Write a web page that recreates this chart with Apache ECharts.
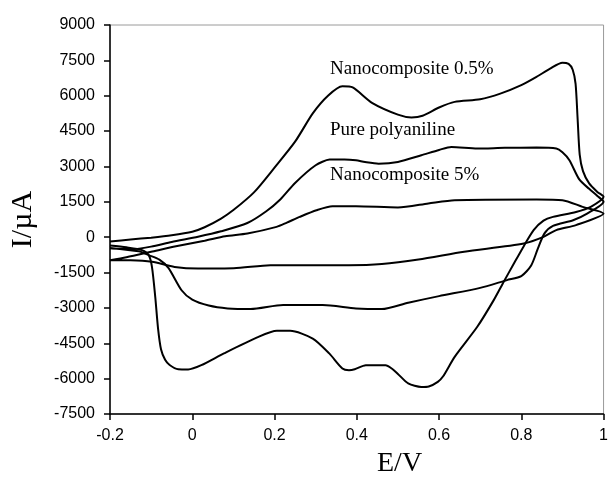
<!DOCTYPE html>
<html>
<head>
<meta charset="utf-8">
<script src="https://cdn.jsdelivr.net/npm/echarts@6/dist/echarts.min.js"></script>
<style>
html,body{margin:0;padding:0;background:#fff;}
#chart{width:611px;height:482px;}
</style>
</head>
<body>
<div id="chart"></div>
<script>
// ---- Data (E in V, I in µA) ----
const seriesNames = ['Nanocomposite 0.5%', 'Pure polyaniline', 'Nanocomposite 5%'];
const xTicks = [-0.2, 0, 0.2, 0.4, 0.6, 0.8, 1];
const yTicks = [-7500, -6000, -4500, -3000, -1500, 0, 1500, 3000, 4500, 6000, 7500, 9000];

// Nanocomposite 0.5% : anodic (forward) branch
const nc05FwdE = [-0.2, -0.15, -0.1, -0.05, 0.0, 0.03, 0.07, 0.1, 0.15, 0.2, 0.25, 0.293, 0.33, 0.365, 0.39, 0.437, 0.5, 0.533, 0.56, 0.6, 0.638, 0.7, 0.749, 0.8, 0.837, 0.87, 0.9, 0.915, 0.925, 0.932, 0.937, 0.942, 0.95, 0.965, 0.985, 1.0];
const nc05FwdI = [-180, -100, -20, 80, 230, 420, 790, 1150, 1900, 2950, 4050, 5250, 6000, 6400, 6350, 5700, 5200, 5080, 5150, 5500, 5740, 5850, 6090, 6450, 6800, 7150, 7400, 7350, 7100, 6500, 5000, 3500, 2800, 2280, 1920, 1710];
// Nanocomposite 0.5% : cathodic (reverse) branch
const nc05RevE = [1.0, 0.97, 0.933, 0.877, 0.854, 0.83, 0.806, 0.781, 0.757, 0.733, 0.693, 0.638, 0.61, 0.597, 0.575, 0.557, 0.525, 0.5, 0.485, 0.47, 0.422, 0.395, 0.381, 0.365, 0.333, 0.293, 0.238, 0.206, 0.158, 0.077, 0.022, -0.01, -0.034, -0.055, -0.066, -0.076, -0.083, -0.09, -0.098, -0.106, -0.122, -0.16, -0.2];
const nc05RevI = [1710, 1300, 1070, 860, 700, 300, -380, -1150, -1900, -2670, -3800, -5075, -5900, -6135, -6330, -6350, -6200, -5800, -5570, -5430, -5430, -5600, -5640, -5570, -4930, -4300, -3970, -3970, -4250, -4930, -5430, -5610, -5600, -5420, -5200, -4750, -3900, -2530, -1260, -760, -550, -430, -350];

// Pure polyaniline
const paniFwdE = [-0.2, -0.14, -0.1, -0.05, 0.014, 0.07, 0.134, 0.18, 0.214, 0.25, 0.3, 0.334, 0.37, 0.398, 0.42, 0.453, 0.5, 0.557, 0.6, 0.63, 0.693, 0.76, 0.837, 0.885, 0.9, 0.917, 0.941, 0.965, 0.985, 1.0];
const paniFwdI = [-480, -500, -400, -200, 20, 250, 600, 1100, 1600, 2300, 3050, 3290, 3300, 3265, 3190, 3120, 3190, 3475, 3700, 3830, 3760, 3790, 3800, 3760, 3600, 3265, 2450, 2050, 1750, 1500];
const paniRevE = [1.0, 0.96, 0.926, 0.877, 0.856, 0.84, 0.824, 0.8, 0.765, 0.7, 0.6, 0.525, 0.461, 0.398, 0.317, 0.221, 0.142, 0.086, 0.04, 0.0, -0.026, -0.058, -0.08, -0.106, -0.13, -0.2];
const paniRevI = [1500, 1000, 720, 480, 150, -500, -1200, -1650, -1820, -2150, -2500, -2780, -3050, -3020, -2880, -2880, -3050, -3020, -2900, -2650, -2250, -1300, -950, -760, -600, -470];

// Nanocomposite 5%
const nc5FwdE = [-0.2, -0.16, -0.1, -0.046, 0.03, 0.08, 0.134, 0.205, 0.23, 0.261, 0.302, 0.341, 0.398, 0.5, 0.574, 0.638, 0.837, 0.9, 0.949, 1.0];
const nc5FwdI = [-975, -850, -620, -410, -150, 40, 157, 437, 620, 860, 1145, 1314, 1314, 1260, 1430, 1570, 1600, 1570, 1286, 1000];
const nc5RevE = [1.0, 0.933, 0.885, 0.854, 0.806, 0.661, 0.55, 0.461, 0.381, 0.19, 0.101, 0.014, -0.043, -0.098, -0.15, -0.2];
const nc5RevI = [1000, 510, 300, 13, -270, -620, -950, -1140, -1190, -1190, -1320, -1330, -1260, -1045, -980, -975];

function pairs(e1, i1, e2, i2) {
  const out = [];
  e1.forEach((e, k) => out.push([e, i1[k]]));
  e2.forEach((e, k) => out.push([e, i2[k]]));
  return out;
}
const loops = [
  pairs(nc05FwdE, nc05FwdI, nc05RevE, nc05RevI),
  pairs(paniFwdE, paniFwdI, paniRevE, paniRevI),
  pairs(nc5FwdE, nc5FwdI, nc5RevE, nc5RevI)
];

const chart = echarts.init(document.getElementById('chart'), null, {renderer: 'canvas'});
const sans = 'Liberation Sans';
const serif = 'Liberation Serif';

chart.setOption({
  animation: false,
  backgroundColor: '#fff',
  grid: {left: 108, right: 3, top: 25, bottom: 68, show: true, borderColor: '#9a9a9a', borderWidth: 1, backgroundColor: '#fff'},
  xAxis: {
    type: 'value', min: xTicks[0], max: xTicks[xTicks.length - 1], interval: 0.2,
    axisLine: {show: true, onZero: false, lineStyle: {color: '#000', width: 1.5}},
    axisTick: {show: true, length: 6, lineStyle: {color: '#000', width: 1.5}},
    splitLine: {show: false},
    axisLabel: {color: '#000', fontFamily: sans, fontSize: 16, margin: 14,
      formatter: v => String(Math.round(v * 10) / 10)}
  },
  yAxis: {
    type: 'value', min: yTicks[0], max: yTicks[yTicks.length - 1], interval: 1500,
    axisLine: {show: true, onZero: false, lineStyle: {color: '#000', width: 1.5}},
    axisTick: {show: true, length: 6, lineStyle: {color: '#000', width: 1.5}},
    splitLine: {show: false},
    axisLabel: {color: '#000', fontFamily: sans, fontSize: 16, margin: 15,
      formatter: v => String(v)},
    name: 'I/µA', nameLocation: 'middle', nameRotate: 90, nameGap: 72,
    nameTextStyle: {color: '#000', fontFamily: serif, fontSize: 30}
  },
  graphic: [
    {type: 'text', left: 377, top: 450, style: {text: 'E/V', fill: '#000', font: '28px "Liberation Serif"'}},
    {type: 'text', left: 330, top: 60, style: {text: seriesNames[0], fill: '#000', font: '19px "Liberation Serif"'}},
    {type: 'text', left: 330, top: 121, style: {text: seriesNames[1], fill: '#000', font: '19px "Liberation Serif"'}},
    {type: 'text', left: 330, top: 166, style: {text: seriesNames[2], fill: '#000', font: '19px "Liberation Serif"'}}
  ],
  series: loops.map((d, k) => ({
    name: seriesNames[k], type: 'line', data: d, showSymbol: false, smooth: 0.25,
    lineStyle: {color: '#000', width: 2}, z: 3
  }))
});
</script>
</body>
</html>
